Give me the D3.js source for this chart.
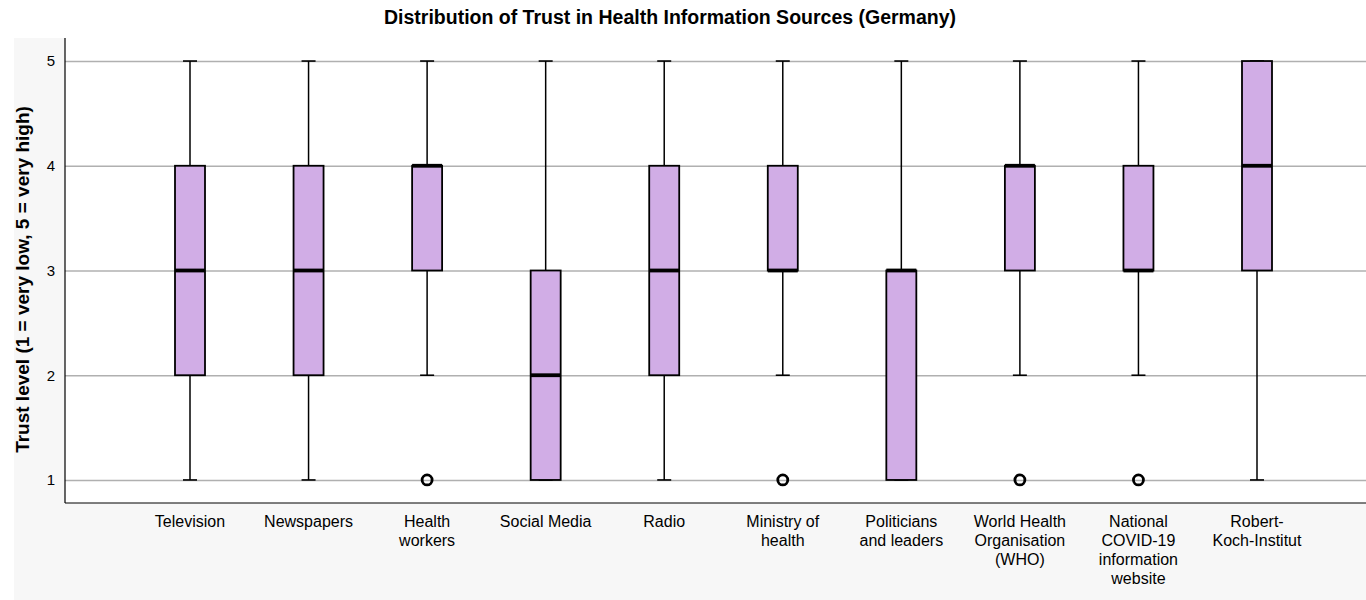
<!DOCTYPE html>
<html>
<head>
<meta charset="utf-8">
<script src="https://cdn.jsdelivr.net/npm/d3@7"></script>
<style>
  html, body { margin: 0; padding: 0; background: #ffffff; }
  svg { display: block; font-family: "Liberation Sans", Arial, sans-serif; }
</style>
</head>
<body>
<svg id="chart" width="1366" height="600"></svg>
<script>
// Trust in health information sources, Germany (1 = very low, 5 = very high)
const categories = [
  ["Television"],
  ["Newspapers"],
  ["Health", "workers"],
  ["Social Media"],
  ["Radio"],
  ["Ministry of", "health"],
  ["Politicians", "and leaders"],
  ["World Health", "Organisation", "(WHO)"],
  ["National", "COVID-19", "information", "website"],
  ["Robert-", "Koch-Institut"]
];
const whiskerLow  = [1, 1, 2, 1, 1, 2, 1, 2, 2, 1];
const q1          = [2, 2, 3, 1, 2, 3, 1, 3, 3, 3];
const median      = [3, 3, 4, 2, 3, 3, 3, 4, 3, 4];
const q3          = [4, 4, 4, 3, 4, 4, 3, 4, 4, 5];
const whiskerHigh = [5, 5, 5, 5, 5, 5, 5, 5, 5, 5];
const outliers    = [[], [], [1], [], [], [1], [], [1], [1], []];
const yTicks = [1, 2, 3, 4, 5];

const W = 1366, H = 600;
const plot = { left: 65, top: 38, right: 1366, bottom: 503 };
const svg = d3.select("#chart");

// light panel behind the axes area
svg.append("rect").attr("x", 14).attr("y", 38).attr("width", W - 14).attr("height", H - 38)
  .attr("fill", "#f7f7f7");
svg.append("rect").attr("x", plot.left).attr("y", plot.top)
  .attr("width", plot.right - plot.left).attr("height", plot.bottom - plot.top)
  .attr("fill", "#ffffff");

const y = d3.scaleLinear().domain([0.78, 5.22]).range([plot.bottom, plot.top]);
const x = d3.scaleLinear().domain([1, 10]).range([190, 1257]);
const boxW = 30, capW = 14;

const clipId = "plotClip";
svg.append("clipPath").attr("id", clipId).append("rect")
  .attr("x", plot.left).attr("y", plot.top)
  .attr("width", plot.right - plot.left).attr("height", plot.bottom - plot.top);

// grid
const yAxis = d3.axisLeft(y).tickValues(yTicks).tickSize(-(plot.right - plot.left)).tickPadding(10).tickFormat(d3.format("d"));
const gy = svg.append("g").attr("transform", `translate(${plot.left},0)`).call(yAxis);
gy.select(".domain").remove();
gy.selectAll(".tick line").attr("stroke", "#b0b0b0").attr("stroke-width", 1.5);
gy.selectAll(".tick text").attr("font-size", 15).attr("fill", "#000").attr("font-family", "Liberation Sans, Arial, sans-serif");

const idx = d3.range(categories.length);
const g = svg.append("g").attr("clip-path", `url(#${clipId})`);

const box = g.selectAll("g.box").data(idx).join("g").attr("class", "box");

// whisker stems
box.append("line")
  .attr("x1", i => x(i + 1)).attr("x2", i => x(i + 1))
  .attr("y1", i => y(q3[i])).attr("y2", i => y(whiskerHigh[i]))
  .attr("stroke", "#000").attr("stroke-width", 1.5);
box.append("line")
  .attr("x1", i => x(i + 1)).attr("x2", i => x(i + 1))
  .attr("y1", i => y(q1[i])).attr("y2", i => y(whiskerLow[i]))
  .attr("stroke", "#000").attr("stroke-width", 1.5);
// caps
box.append("line")
  .attr("x1", i => x(i + 1) - capW / 2).attr("x2", i => x(i + 1) + capW / 2)
  .attr("y1", i => y(whiskerHigh[i])).attr("y2", i => y(whiskerHigh[i]))
  .attr("stroke", "#000").attr("stroke-width", 1.6);
box.append("line")
  .attr("x1", i => x(i + 1) - capW / 2).attr("x2", i => x(i + 1) + capW / 2)
  .attr("y1", i => y(whiskerLow[i])).attr("y2", i => y(whiskerLow[i]))
  .attr("stroke", "#000").attr("stroke-width", 1.6);
// boxes
box.append("rect")
  .attr("x", i => x(i + 1) - boxW / 2).attr("width", boxW)
  .attr("y", i => y(q3[i])).attr("height", i => y(q1[i]) - y(q3[i]))
  .attr("fill", "#d1ade6").attr("stroke", "#000").attr("stroke-width", 1.8);
// medians
box.append("line")
  .attr("x1", i => x(i + 1) - boxW / 2).attr("x2", i => x(i + 1) + boxW / 2)
  .attr("y1", i => y(median[i])).attr("y2", i => y(median[i]))
  .attr("stroke", "#000").attr("stroke-width", 3.8);
// outliers
box.selectAll("circle").data(i => outliers[i].map(v => ({ i, v }))).join("circle")
  .attr("cx", d => x(d.i + 1)).attr("cy", d => y(d.v)).attr("r", 5)
  .attr("fill", "none").attr("stroke", "#000").attr("stroke-width", 2.8);

// axis lines
svg.append("line").attr("x1", plot.left).attr("x2", plot.left).attr("y1", plot.top).attr("y2", plot.bottom)
  .attr("stroke", "#000").attr("stroke-width", 1.2);
svg.append("line").attr("x1", plot.left).attr("x2", plot.right).attr("y1", plot.bottom).attr("y2", plot.bottom)
  .attr("stroke", "#000").attr("stroke-width", 1.2);

// category labels
const xl = svg.append("g").selectAll("text").data(idx).join("text")
  .attr("x", i => x(i + 1)).attr("y", 527)
  .attr("text-anchor", "middle").attr("font-size", 16).attr("fill", "#000");
xl.selectAll("tspan").data(i => categories[i].map((t, k) => ({ t, k, i }))).join("tspan")
  .attr("x", d => x(d.i + 1)).attr("dy", d => d.k === 0 ? 0 : 19).text(d => d.t);

// title and axis label
svg.append("text").attr("x", 670).attr("y", 24).attr("text-anchor", "middle")
  .attr("font-size", 19.5).attr("font-weight", "bold").text("Distribution of Trust in Health Information Sources (Germany)");
svg.append("text").attr("transform", `translate(29,${(plot.top + plot.bottom) / 2 + 9}) rotate(-90)`)
  .attr("text-anchor", "middle").attr("font-size", 19).attr("font-weight", "bold")
  .text("Trust level (1 = very low, 5 = very high)");
</script>
</body>
</html>
